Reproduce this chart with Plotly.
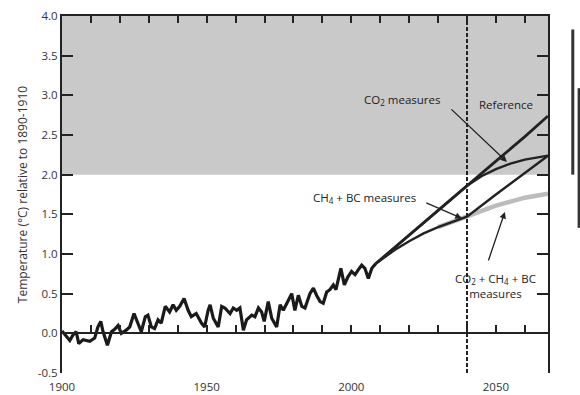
import plotly.graph_objects as go

# ---- data ----
hist_years = [1900, 1901.5, 1902.7, 1903.8, 1904.9, 1905.8, 1907.3, 1909.6, 1911.3, 1912.4,
              1913.4, 1914.2, 1915.7, 1917.1, 1918.2, 1919.4, 1920.5, 1922.2, 1923.4, 1924.9,
              1926.3, 1927.4, 1928.8, 1929.7, 1930.9, 1932.0, 1933.2, 1934.3, 1935.7, 1937.2,
              1938.4, 1939.5, 1940.7, 1942.2, 1943.6, 1944.7, 1946.4, 1948.2, 1949.3, 1950.5,
              1951.2, 1952.3, 1954.0, 1955.2, 1956.3, 1958.1, 1959.2, 1960.4, 1961.5, 1962.7,
              1963.8, 1965.6, 1966.7, 1967.9, 1969.0, 1969.9, 1971.3, 1972.5, 1974.2, 1975.4,
              1976.5, 1978.2, 1979.4, 1980.5, 1981.7, 1982.9, 1984.0, 1985.7, 1986.9, 1988.0,
              1989.2, 1990.3, 1991.5, 1992.6, 1993.8, 1994.7, 1996.4, 1997.6, 1998.8, 2000.1,
              2001.3, 2002.4, 2003.6, 2004.7, 2005.9, 2007.1, 2008.5]
hist_temp = [0.03, -0.04, -0.09, -0.02, 0.02, -0.13, -0.08, -0.10, -0.06, 0.08,
             0.15, 0.02, -0.15, 0.02, 0.05, 0.10, 0.00, 0.04, 0.08, 0.25,
             0.13, 0.02, 0.21, 0.23, 0.08, 0.06, 0.17, 0.13, 0.34, 0.27,
             0.36, 0.29, 0.34, 0.44, 0.29, 0.21, 0.25, 0.13, 0.08, 0.29,
             0.36, 0.19, 0.08, 0.34, 0.32, 0.25, 0.32, 0.29, 0.32, 0.04,
             0.17, 0.23, 0.21, 0.32, 0.27, 0.15, 0.40, 0.19, 0.08, 0.36,
             0.29, 0.42, 0.50, 0.29, 0.48, 0.34, 0.32, 0.50, 0.57, 0.48,
             0.40, 0.38, 0.52, 0.55, 0.61, 0.55, 0.82, 0.61, 0.71, 0.78,
             0.74, 0.80, 0.86, 0.82, 0.69, 0.82, 0.88]

ref_years = [2008.5, 2020, 2030, 2040, 2050, 2060, 2068]
ref_temp = [0.88, 1.24, 1.55, 1.86, 2.17, 2.48, 2.74]

co2_years = [2008.5, 2020, 2030, 2040, 2045, 2050, 2055, 2060, 2068]
co2_temp = [0.88, 1.24, 1.55, 1.86, 1.98, 2.07, 2.14, 2.19, 2.24]

ch4bc_years = [2008.5, 2015, 2020, 2025, 2030, 2035, 2040, 2050, 2060, 2068]
ch4bc_temp = [0.88, 1.05, 1.16, 1.26, 1.34, 1.41, 1.47, 1.75, 2.02, 2.24]

all_years = [2030, 2035, 2040, 2045, 2050, 2055, 2060, 2068]
all_temp = [1.34, 1.41, 1.47, 1.55, 1.61, 1.66, 1.71, 1.76]

x_range = [1900, 2068]
y_range = [-0.5, 4.0]
x_tick_vals = [1900, 1950, 2000, 2050]
y_tick_vals = [-0.5, 0.0, 0.5, 1.0, 1.5, 2.0, 2.5, 3.0, 3.5, 4.0]
y_tick_text = [f"{v:.1f}" for v in y_tick_vals]
shade_range = [2.0, 4.0]
dash_year = 2040
side_bars = [(2.0, 3.83), (1.33, 3.09)]

FONT = "Open Sans"
INK = "#222222"
LABEL = "#333333"

fig = go.Figure()

fig.add_trace(go.Scatter(x=all_years, y=all_temp, mode="lines",
                         line=dict(color="#bcbcbc", width=4.5), hoverinfo="skip"))
fig.add_trace(go.Scatter(x=ch4bc_years, y=ch4bc_temp, mode="lines",
                         line=dict(color=INK, width=2.4), hoverinfo="skip"))
fig.add_trace(go.Scatter(x=co2_years, y=co2_temp, mode="lines",
                         line=dict(color=INK, width=2.4), hoverinfo="skip"))
fig.add_trace(go.Scatter(x=ref_years, y=ref_temp, mode="lines",
                         line=dict(color=INK, width=2.8), hoverinfo="skip"))
fig.add_trace(go.Scatter(x=hist_years, y=hist_temp, mode="lines",
                         line=dict(color="#1a1a1a", width=3.2), hoverinfo="skip"))
# invisible anchors for the decorative axes
fig.add_trace(go.Scatter(x=x_range, y=[0, 0], xaxis="x2", mode="lines",
                         line=dict(width=0), opacity=0, hoverinfo="skip"))
fig.add_trace(go.Scatter(x=x_range, y=[0, 0], xaxis="x3", mode="lines",
                         line=dict(width=0), opacity=0, hoverinfo="skip"))

shapes = [
    dict(type="rect", xref="paper", yref="y", x0=0, x1=1,
         y0=shade_range[0], y1=shade_range[1], fillcolor="#c9c9c9",
         line=dict(width=0), layer="below"),
    dict(type="line", xref="x", yref="paper", x0=dash_year, x1=dash_year, y0=0, y1=1,
         line=dict(color=INK, width=2, dash="4px,2px")),
]
for i, (lo, hi) in enumerate(side_bars):
    xp = 1.051 + i * 0.013
    shapes.append(dict(type="line", xref="paper", yref="y", x0=xp, x1=xp, y0=lo, y1=hi,
                       line=dict(color="#333333", width=3)))

afont = dict(family=FONT, size=11.5, color=INK)
annotations = [
    dict(x=2017.5, y=2.94, text="CO<sub>2</sub> measures", showarrow=False, font=afont),
    dict(x=2053.5, y=2.89, text="Reference", showarrow=False, font=afont),
    dict(x=2004.7, y=1.70, text="CH<sub>4</sub> + BC measures", showarrow=False, font=afont),
    dict(x=2050.0, y=0.60, text="CO<sub>2</sub> + CH<sub>4</sub> + BC<br>measures",
         showarrow=False, font=afont),
    dict(x=2053.8, y=2.16, ax=-57, ay=-54, text="", showarrow=True,
         arrowhead=2, arrowsize=1, arrowwidth=1.3, arrowcolor=INK),
    dict(x=2038.2, y=1.45, ax=-37, ay=-16, text="", showarrow=True,
         arrowhead=2, arrowsize=1, arrowwidth=1.3, arrowcolor=INK),
    dict(x=2053.1, y=1.53, ax=-17, ay=50, text="", showarrow=True,
         arrowhead=2, arrowsize=1, arrowwidth=1.3, arrowcolor=INK),
]

fig.update_layout(
    width=580, height=395,
    margin=dict(l=62, r=32, t=16, b=22, autoexpand=False),
    paper_bgcolor="white", plot_bgcolor="white",
    showlegend=False,
    font=dict(family=FONT, size=11, color=LABEL),
    shapes=shapes,
    annotations=annotations,
    xaxis=dict(range=x_range, tickvals=x_tick_vals, ticks="", showline=False,
               showgrid=False, zeroline=False, automargin=False,
               ticklabelstandoff=5,
               tickfont=dict(family=FONT, size=11.5, color=LABEL)),
    xaxis2=dict(range=x_range, overlaying="x", side="top", showline=True,
                linecolor=INK, linewidth=2, ticks="inside", ticklen=7, tickwidth=1.5,
                tickcolor=INK, dtick=10, tick0=1900, showticklabels=False,
                showgrid=False, zeroline=False, automargin=False),
    xaxis3=dict(range=x_range, overlaying="x", side="bottom", anchor="free",
                position=(0 - y_range[0]) / (y_range[1] - y_range[0]),
                showline=True, linecolor=INK, linewidth=2, ticks="inside", ticklen=7,
                tickwidth=1.5, tickcolor=INK, dtick=10, tick0=1900,
                showticklabels=False, showgrid=False, zeroline=False, automargin=False),
    yaxis=dict(range=y_range, tickvals=y_tick_vals, ticktext=y_tick_text,
               ticks="inside", ticklen=11, tickwidth=2, tickcolor=INK,
               showline=True, linecolor=INK, linewidth=2, mirror="ticks",
               showgrid=False, zeroline=False, automargin=False,
               tickfont=dict(family=FONT, size=11.5, color=LABEL),
               title=dict(text="Temperature (°C) relative to 1890-1910",
                          font=dict(family=FONT, size=12, color=LABEL),
                          standoff=8)),
)

fig.write_html("out.html")
